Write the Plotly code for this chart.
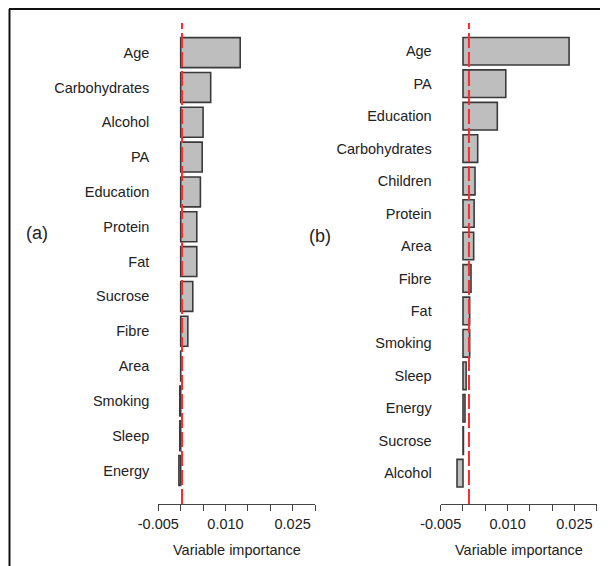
import plotly.graph_objects as go

# Panel (a)
cats_a = ["Age", "Carbohydrates", "Alcohol", "PA", "Education", "Protein", "Fat",
          "Sucrose", "Fibre", "Area", "Smoking", "Sleep", "Energy"]
vals_a = [0.0133, 0.0067, 0.0050, 0.0048, 0.0044, 0.0036, 0.0036,
          0.0027, 0.0016, 0.00002, -0.0002, -0.0002, -0.0004]
ref_a = 0.0003

# Panel (b)
cats_b = ["Age", "PA", "Education", "Carbohydrates", "Children", "Protein", "Area",
          "Fibre", "Fat", "Smoking", "Sleep", "Energy", "Sucrose", "Alcohol"]
vals_b = [0.0238, 0.0096, 0.0077, 0.0033, 0.0027, 0.0025, 0.0024,
          0.0018, 0.0015, 0.0015, 0.0007, 0.00045, 0.0001, -0.00134]
ref_b = 0.00134

tick_vals = [-0.005, 0.0, 0.005, 0.010, 0.015, 0.020, 0.025, 0.030]
tick_text = ["-0.005", "", "", "0.010", "", "", "0.025", ""]

W, H = 608, 566
OFF = 8  # page body margin offset
FONT = "Liberation Sans, Arial, sans-serif"
FS = 14.5

fig = go.Figure()
fig.add_trace(go.Bar(y=cats_a, x=vals_a, orientation="h", xaxis="x", yaxis="y",
                     width=0.86, marker=dict(color="#bebebe", line=dict(color="#3a3a3a", width=1.6)),
                     showlegend=False))
fig.add_trace(go.Bar(y=cats_b, x=vals_b, orientation="h", xaxis="x2", yaxis="y2",
                     width=0.85, marker=dict(color="#bebebe", line=dict(color="#3a3a3a", width=1.6)),
                     showlegend=False))

def px_x(p):
    return (p - OFF) / W

def px_y(p):
    return 1 - (p - OFF) / H

ydom = [px_y(504), px_y(23)]
xax_common = dict(range=[-0.005, 0.030], tickvals=tick_vals, ticktext=tick_text,
                  showline=True, linecolor="#444", linewidth=1.4, ticks="outside",
                  ticklen=6, tickwidth=1.4, tickcolor="#444", showgrid=False, zeroline=False,
                  automargin=False,
                  tickfont=dict(family=FONT, size=FS, color="#222"), fixedrange=True)
yax_common = dict(type="category", showline=False, ticks="", showgrid=False, zeroline=False,
                  automargin=False,
                  tickfont=dict(family=FONT, size=FS, color="#222"), ticklabelstandoff=8)

fig.update_layout(
    template="none",
    width=W, height=H, margin=dict(l=0, r=0, t=0, b=0, pad=0), autosize=False,
    paper_bgcolor="white", plot_bgcolor="white",
    xaxis=dict(domain=[px_x(158.3), px_x(315)], anchor="y", **xax_common),
    xaxis2=dict(domain=[px_x(440.7), px_x(596.7)], anchor="y2", **xax_common),
    yaxis=dict(domain=ydom, anchor="x", range=[12.96, -0.85],
               categoryorder="array", categoryarray=cats_a, **yax_common),
    yaxis2=dict(domain=ydom, anchor="x2", range=[13.95, -0.87],
                categoryorder="array", categoryarray=cats_b, **yax_common),
    bargap=0.15,
)

# red dashed reference lines
fig.add_shape(type="line", xref="x", yref="y domain", x0=ref_a, x1=ref_a, y0=0, y1=1,
              line=dict(color="#ff2a2a", width=2, dash="15px,4px"))
fig.add_shape(type="line", xref="x2", yref="y2 domain", x0=ref_b, x1=ref_b, y0=0, y1=1,
              line=dict(color="#ff2a2a", width=2, dash="15px,4px"))

# frame lines (top and left)
fig.add_shape(type="line", xref="paper", yref="paper", x0=px_x(9), x1=1.0, y0=px_y(9), y1=px_y(9),
              line=dict(color="#111", width=2))
fig.add_shape(type="line", xref="paper", yref="paper", x0=px_x(9.5), x1=px_x(9.5), y0=px_y(9), y1=0,
              line=dict(color="#111", width=2))

# axis titles and panel labels
for xc in [(158.3 + 315) / 2, (440.7 + 596.7) / 2]:
    fig.add_annotation(text="Variable importance", xref="paper", yref="paper",
                       x=px_x(xc), y=px_y(550), xanchor="center", yanchor="middle",
                       showarrow=False, font=dict(family=FONT, size=FS, color="#222"))
fig.add_annotation(text="(a)", xref="paper", yref="paper", x=px_x(37), y=px_y(233),
                   xanchor="center", yanchor="middle", showarrow=False,
                   font=dict(family=FONT, size=18, color="#222"))
fig.add_annotation(text="(b)", xref="paper", yref="paper", x=px_x(320), y=px_y(236),
                   xanchor="center", yanchor="middle", showarrow=False,
                   font=dict(family=FONT, size=18, color="#222"))

fig.write_html("out.html")
